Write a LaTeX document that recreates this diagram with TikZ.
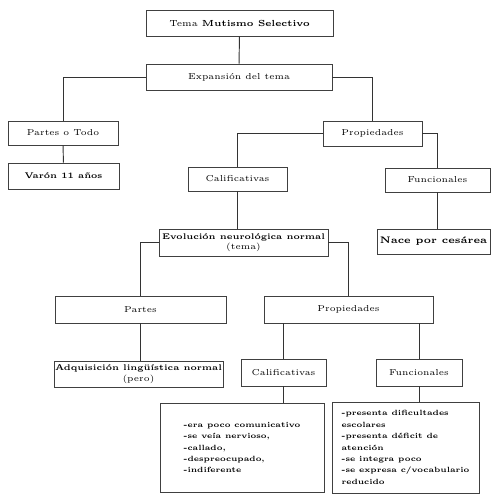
\documentclass[tikz,border=0pt]{standalone}
\tikzset{
  caja/.style={draw=black!75, line width=0.55pt, inner sep=0pt, align=center,
    font=\fontsize{4.9}{6}\selectfont},
  lista/.style={caja, align=left, anchor=center,
    font=\fontsize{4.3}{6.5}\selectfont\bfseries},
  linea/.style={draw=black!80, line width=0.55pt}
}
\newcommand{\negrita}[1]{{\bfseries\fontsize{4.7}{6}\selectfont #1}}
\begin{document}
\begin{tikzpicture}[x=0.02cm, y=-0.02cm]
  \useasboundingbox (0,0) rectangle (497,500);

  % Cajas
  \node[caja, minimum width=3.74cm, minimum height=0.52cm, font=\fontsize{5}{6}\selectfont] (tema) at (239.5,23) {Tema \textbf{Mutismo Selectivo}};
  \node[caja, minimum width=3.72cm, minimum height=0.52cm] (exp) at (239,77) {Expansión del tema};
  \node[caja, minimum width=2.2cm, minimum height=0.48cm] (pot) at (63,133) {Partes o Todo};
  \node[caja, minimum width=2.22cm, minimum height=0.52cm] (varon) at (63.5,176) {\negrita{Varón 11 años}};
  \node[caja, minimum width=1.98cm, minimum height=0.5cm] (prop) at (372.5,133.5) {Propiedades};
  \node[caja, minimum width=1.98cm, minimum height=0.48cm] (calif) at (237.5,179) {Calificativas};
  \node[caja, minimum width=2.1cm, minimum height=0.48cm] (func) at (437.5,180) {Funcionales};
  \node[caja, minimum width=3.38cm, minimum height=0.54cm] (evol) at (243.5,242.5) {\negrita{Evolución neurológica normal}\\(tema)};
  \node[caja, minimum width=2.26cm, minimum height=0.5cm] (nace) at (433.5,241.5) {{\bfseries\fontsize{5.4}{6}\selectfont Nace por cesárea}};
  \node[caja, minimum width=3.42cm, minimum height=0.54cm] (partes) at (140.5,309.5) {Partes};
  \node[caja, minimum width=3.38cm, minimum height=0.54cm] (prop2) at (348.5,309.5) {Propiedades};
  \node[caja, minimum width=3.38cm, minimum height=0.52cm] (adq) at (138.5,374) {\negrita{Adquisición lingüística normal}\\(pero)};
  \node[caja, minimum width=1.7cm, minimum height=0.54cm] (cal2) at (283.5,372.5) {Calificativas};
  \node[caja, minimum width=1.72cm, minimum height=0.54cm] (func2) at (419,372.5) {Funcionales};
  \node[lista, minimum width=3.28cm, minimum height=1.78cm] (lista1) at (242,447.5)
    {-era poco comunicativo\\-se veía nervioso,\\-callado,\\-despreocupado,\\-indiferente};
  \node[lista, minimum width=2.94cm, minimum height=1.82cm] (lista2) at (405.5,447.5)
    {-presenta dificultades\\escolares\\-presenta déficit de\\atención\\-se integra poco\\-se expresa c/vocabulario\\reducido};

  % Conectores
  \draw[linea] (tema) -- (exp);
  \draw[linea] (exp.west) -| (pot.north);
  \draw[linea] (exp.east) -| (prop.north);
  \draw[linea] (pot) -- (varon);
  \draw[linea] (prop.west) -| (calif.north);
  \draw[linea] (prop.east) -| (func.north);
  \draw[linea] (calif.south) -- (calif.south |- evol.north);
  \draw[linea] (func.south) -- (func.south |- nace.north);
  \draw[linea] (evol.west) -| (partes.north);
  \draw[linea] (evol.east) -| (prop2.north);
  \draw[linea] (partes.south) -- (partes.south |- adq.north);
  \draw[linea] (cal2.north |- prop2.south) -- (cal2.north);
  \draw[linea] (func2.north |- prop2.south) -- (func2.north);
  \draw[linea] (cal2.south) -- (cal2.south |- lista1.north);
  \draw[linea] (func2.south) -- (func2.south |- lista2.north);
\end{tikzpicture}
\end{document}
